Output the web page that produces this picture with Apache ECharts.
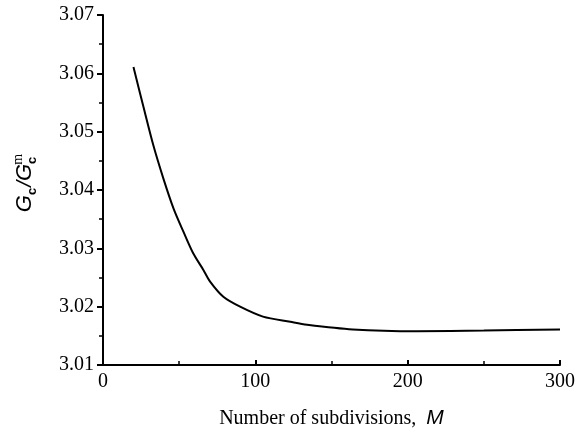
<!DOCTYPE html>
<html>
<head>
<meta charset="utf-8">
<script src="https://cdn.jsdelivr.net/npm/echarts@6/dist/echarts.min.js"></script>
<style>html,body{margin:0;padding:0;background:#fff}#c{width:578px;height:437px}</style>
</head>
<body>
<div id="c"></div>
<script>
const xValues = [20, 26.5, 33, 39.6, 46.2, 52.7, 59.3, 65.9, 70.3, 79, 90, 105, 123, 134, 164, 206, 250, 300];
const yValues = [3.0611, 3.0543, 3.0477, 3.0420, 3.0369, 3.0329, 3.0291, 3.0263, 3.0243, 3.0217, 3.0200, 3.0183, 3.0174, 3.0169, 3.0161, 3.0158, 3.0159, 3.0161];
const xTicks = [0, 100, 200, 300];
const yTicks = [3.01, 3.02, 3.03, 3.04, 3.05, 3.06, 3.07];

const chart = echarts.init(document.getElementById('c'), null, {renderer: 'canvas'});
const serif = 'Liberation Serif';
const sans = 'Liberation Sans';
chart.setOption({
  animation: false,
  backgroundColor: '#fff',
  grid: {left: 103, right: 18, top: 15, bottom: 72, containLabel: false, outerBoundsMode: 'none'},
  xAxis: {
    type: 'value', min: xTicks[0], max: xTicks[xTicks.length - 1], interval: 100,
    axisLine: {lineStyle: {color: '#000', width: 2}},
    axisTick: {inside: true, length: 5, lineStyle: {color: '#000', width: 2}},
    minorTick: {show: true, splitNumber: 2, length: 4, lineStyle: {color: '#000', width: 1.5}},
    splitLine: {show: false},
    axisLabel: {color: '#000', fontFamily: serif, fontSize: 20, margin: 7},
    name: 'Number of subdivisions,  {m|M}',
    nameLocation: 'middle', nameGap: 43,
    nameTextStyle: {color: '#000', fontFamily: serif, fontSize: 20,
      rich: {m: {fontFamily: sans, fontStyle: 'italic', fontSize: 21, color: '#000'}}}
  },
  yAxis: {
    type: 'value', min: yTicks[0], max: yTicks[yTicks.length - 1], interval: 0.01,
    axisLine: {show: true, lineStyle: {color: '#000', width: 2}},
    axisTick: {show: true, length: 6, lineStyle: {color: '#000', width: 2}},
    minorTick: {show: true, splitNumber: 2, length: 4, lineStyle: {color: '#000', width: 1.5}},
    splitLine: {show: false},
    axisLabel: {color: '#000', fontFamily: serif, fontSize: 20, margin: 9,
      formatter: v => v.toFixed(2)},
    name: '{g|G}{s|c}{t|/}{g|G}{s2|c}{m|m}',
    nameLocation: 'middle', nameGap: 64, nameRotate: 90,
    nameTextStyle: {color: '#000', fontFamily: sans, fontSize: 20, padding: [0, 0, 0, 14],
      rich: {
        g: {fontFamily: sans, fontStyle: 'italic', fontSize: 22, color: '#000', lineHeight: 28, verticalAlign: 'middle'},
        t: {fontFamily: sans, fontStyle: 'italic', fontSize: 21, color: '#000', lineHeight: 28},
        s: {fontFamily: sans, fontWeight: 'bold', fontSize: 13, color: '#000', lineHeight: 28, verticalAlign: 'bottom', padding: [0, 1, 0, 0]},
        s2: {fontFamily: sans, fontWeight: 'bold', fontSize: 13, color: '#000', lineHeight: 28, verticalAlign: 'bottom'},
        m: {fontFamily: serif, fontSize: 14, color: '#000', lineHeight: 28, verticalAlign: 'top', padding: [0, 0, 0, -8]}
      }}
  },
  series: [{
    type: 'line',
    data: xValues.map((x, i) => [x, yValues[i]]),
    smooth: 0.3,
    showSymbol: false,
    lineStyle: {color: '#000', width: 2}
  }]
});
</script>
</body>
</html>
